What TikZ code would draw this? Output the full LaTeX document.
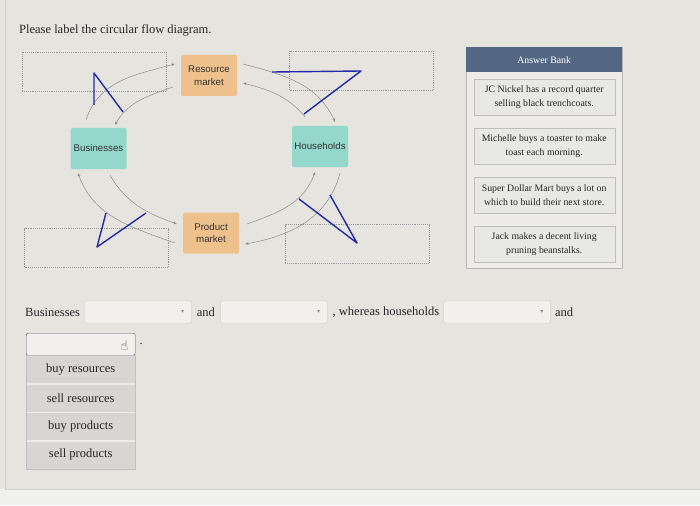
\documentclass[tikz,border=0pt]{standalone}
\usepackage{fontspec}
\setmainfont{Liberation Serif}
\newfontfamily\boxfont{Liberation Sans}
\newfontfamily\symfont{DejaVu Sans}
\usetikzlibrary{arrows.meta, positioning}
\definecolor{page}{RGB}{229,228,223}
\definecolor{mktfill}{RGB}{238,193,140}
\definecolor{agentfill}{RGB}{148,215,203}
\definecolor{ink}{RGB}{38,40,168}
\definecolor{bankhead}{RGB}{84,104,132}
\definecolor{cardfill}{RGB}{232,232,230}

\begin{document}
\begin{tikzpicture}[x=1pt, y=1pt,
      mkt/.style={rectangle, rounded corners=1.5pt, fill=mktfill, inner sep=1pt,
                  minimum width=56pt, minimum height=41pt, text=black!80,
                  font=\boxfont\fontsize{9.7}{12.5}\selectfont, align=center},
      agent/.style={mkt, fill=agentfill},
      slot/.style={rectangle, draw=black!40, densely dotted, line width=0.9pt,
                   minimum width=144pt, minimum height=39pt},
      flow/.style={-{Stealth[length=3.5pt, width=2.8pt]}, line width=0.5pt, draw=black!45},
      scribble/.style={draw=ink, line width=1.4pt, line join=round},
      txt/.style={inner sep=0pt, text=black!85, font=\fontsize{12.5}{15}\selectfont},
      drop/.style={rectangle, rounded corners=2pt, draw=black!18, fill=white!45!page,
                   minimum width=107pt, minimum height=22pt},
      caret/.style={font=\symfont\fontsize{6}{6}\selectfont, text=black!45, inner sep=0pt},
      opt/.style={rectangle, draw=white!30!page, fill=black!6!page, minimum width=109pt,
                  minimum height=28pt, inner sep=0pt, text=black!85,
                  font=\fontsize{12.5}{15}\selectfont},
      card/.style={rectangle, draw=black!25, fill=cardfill, minimum width=141pt,
                   minimum height=35.5pt, align=center, text=black!85,
                   font=\fontsize{9.8}{13.5}\selectfont}
    ]
    \useasboundingbox (0,0) rectangle (700,-505);
    \fill[page] (0,0) rectangle (700,-505);
    \fill[black!3!white!60!page] (0,-489) rectangle (700,-505);
    \draw[black!18] (5,0) -- (5,-489) -- (700,-489);

    \node[txt, anchor=west] (title) at (19,-30) {Please label the circular flow diagram.};

    % circular flow
    \node[mkt]   (res)  at (209,-75.5)  {Resource\\ market};
    \node[mkt]   (prod) at (211,-233)   {Product\\ market};
    \node[agent] (biz)  at (98.5,-148.5) {Businesses};
    \node[agent] (hh)   at (320,-146.5) {Households};

    \node[slot] (tl) at (94,-72)    {};
    \node[slot] (tr) at (361.5,-71) {};
    \node[slot] (bl) at (96.5,-248) {};
    \node[slot] (br) at (357,-244)  {};

    \draw[flow] ([shift={(-12.5,8)}]biz.north) to[out=72, in=195] ([shift={(-6,11.5)}]res.west);
    \draw[flow] ([shift={(-8,-11.5)}]res.west) to[out=200, in=60] ([shift={(16.5,3)}]biz.north);
    \draw[flow] ([shift={(6,11.5)}]res.east) to[out=-15, in=115] ([shift={(15,4)}]hh.north);
    \draw[flow] ([shift={(-15,9)}]hh.north) to[out=130, in=-15] ([shift={(6,-7.5)}]res.east);
    \draw[flow] ([shift={(11.5,-6)}]biz.south) to[out=-60, in=160] ([shift={(-6,9)}]prod.west);
    \draw[flow] ([shift={(-8,-10)}]prod.west) to[out=160, in=-70] ([shift={(-20.5,-4)}]biz.south);
    \draw[flow] ([shift={(8,9)}]prod.east) to[out=20, in=-110] ([shift={(-5,-5)}]hh.south);
    \draw[flow] ([shift={(20,-6)}]hh.south) to[out=-105, in=10] ([shift={(6,-11)}]prod.east);

    % pen marks
    \draw[scribble] (94,-105) -- (94,-73) -- (123,-112);
    \draw[scribble] (272,-72) -- (361,-71) -- (304,-114);
    \draw[scribble] (106,-213) -- (97,-247) -- (146,-213);
    \draw[scribble] (299,-199) -- (357,-243) -- (330,-195);

    % answer bank
    \node[rectangle, draw=black!28, fill=white!30!page, minimum width=156pt,
          minimum height=221pt, anchor=north west] (bank) at (466,-47) {};
    \node[rectangle, fill=bankhead, minimum width=156pt, minimum height=25pt,
          text=white, font=\fontsize{9.8}{11}\selectfont, anchor=north] (head) at (bank.north) {Answer Bank};
    \node[card, below=7pt of head] (c1) {JC Nickel has a record quarter\\ selling black trenchcoats.};
    \node[card, below=13pt of c1]  (c2) {Michelle buys a toaster to make\\ toast each morning.};
    \node[card, below=13pt of c2]  (c3) {Super Dollar Mart buys a lot on\\ which to build their next store.};
    \node[card, below=13pt of c3]  (c4) {Jack makes a decent living\\ pruning beanstalks.};

    % sentence with drop-downs
    \node[txt, anchor=west] (lead) at (25,-312) {Businesses};
    \node[drop, right=4pt of lead] (dd1) {};
    \node[txt, right=5pt of dd1] (and1) {and};
    \node[drop, right=5pt of and1] (dd2) {};
    \node[txt, right=5pt of dd2] (wh) {, whereas households};
    \node[drop, right=4pt of wh] (dd3) {};
    \node[txt, right=4pt of dd3] (and2) {and};
    \node[caret] at ([xshift=-9pt]dd1.east) {▾};
    \node[caret] at ([xshift=-9pt]dd2.east) {▾};
    \node[caret] at ([xshift=-9pt]dd3.east) {▾};

    \node[drop, draw=black!65, minimum width=109pt, anchor=north west] (dd4) at (26,-333) {};
    \node[font=\symfont\fontsize{13}{13}\selectfont, text=black!70, inner sep=0pt] (hand)
          at ([xshift=-11pt, yshift=-2pt]dd4.east) {☝};
    \node[txt, right=4pt of dd4] (stop) {.};
    \node[opt, below=0pt of dd4] (o1) {buy resources};
    \node[opt, below=0pt of o1]  (o2) {sell resources};
    \node[opt, below=0pt of o2]  (o3) {buy products};
    \node[opt, below=0pt of o3]  (o4) {sell products};
    \draw[black!25] (o1.north west) rectangle (o4.south east);
  \end{tikzpicture}
\end{document}
